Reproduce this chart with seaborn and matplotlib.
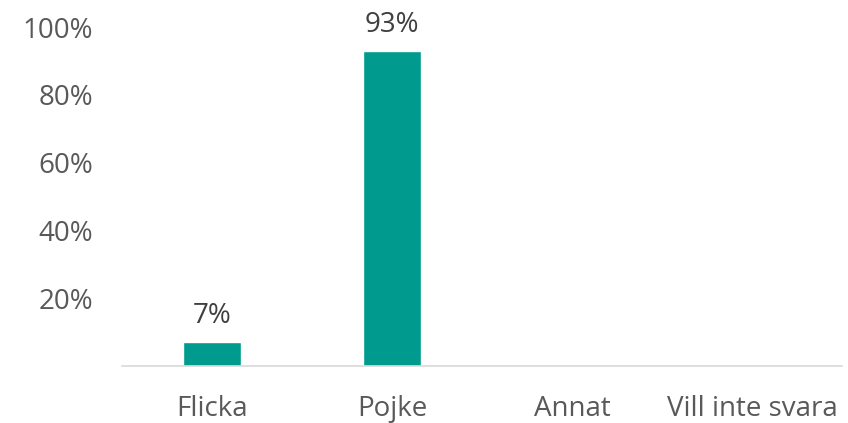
import numpy as np
import pandas as pd
import seaborn as sns
from matplotlib import pyplot as plt

categories = ['Flicka', 'Pojke', 'Annat', 'Vill inte svara']
values = [7, 93, 0, 0]
labels = ['7%', '93%', '', '']

df = pd.DataFrame({'kon': categories, 'andel': values})

sns.set_style('white')
plt.rcParams['font.family'] = ['Open Sans', 'DejaVu Sans']

fig = plt.figure(figsize=(8.48, 4.23), dpi=100)
ax = fig.add_axes([0.144, 0.135, 0.849, 0.801])
sns.barplot(x='kon', y='andel', data=df, color='#009B8E', width=0.32,
            saturation=1, ax=ax)

for i, (v, t) in enumerate(zip(values, labels)):
    if t:
        ax.text(i, v + 3.5, t, ha='center', va='bottom', fontsize=20,
                color='#404040', clip_on=False)

ax.set_ylim(0, 100)
ax.set_yticks([20, 40, 60, 80, 100])
ax.set_yticklabels(['20%', '40%', '60%', '80%', '100%'])
ax.set_xlim(-0.5, 3.5)
ax.set_xlabel('')
ax.set_ylabel('')
ax.tick_params(axis='both', length=0, labelsize=20, labelcolor='#595959')
ax.tick_params(axis='x', pad=21)
ax.tick_params(axis='y', pad=21)
for s in ['top', 'right', 'left']:
    ax.spines[s].set_visible(False)
ax.spines['bottom'].set_color('#D9D9D9')
ax.spines['bottom'].set_linewidth(1.2)

plt.savefig('out.png', dpi=100)
